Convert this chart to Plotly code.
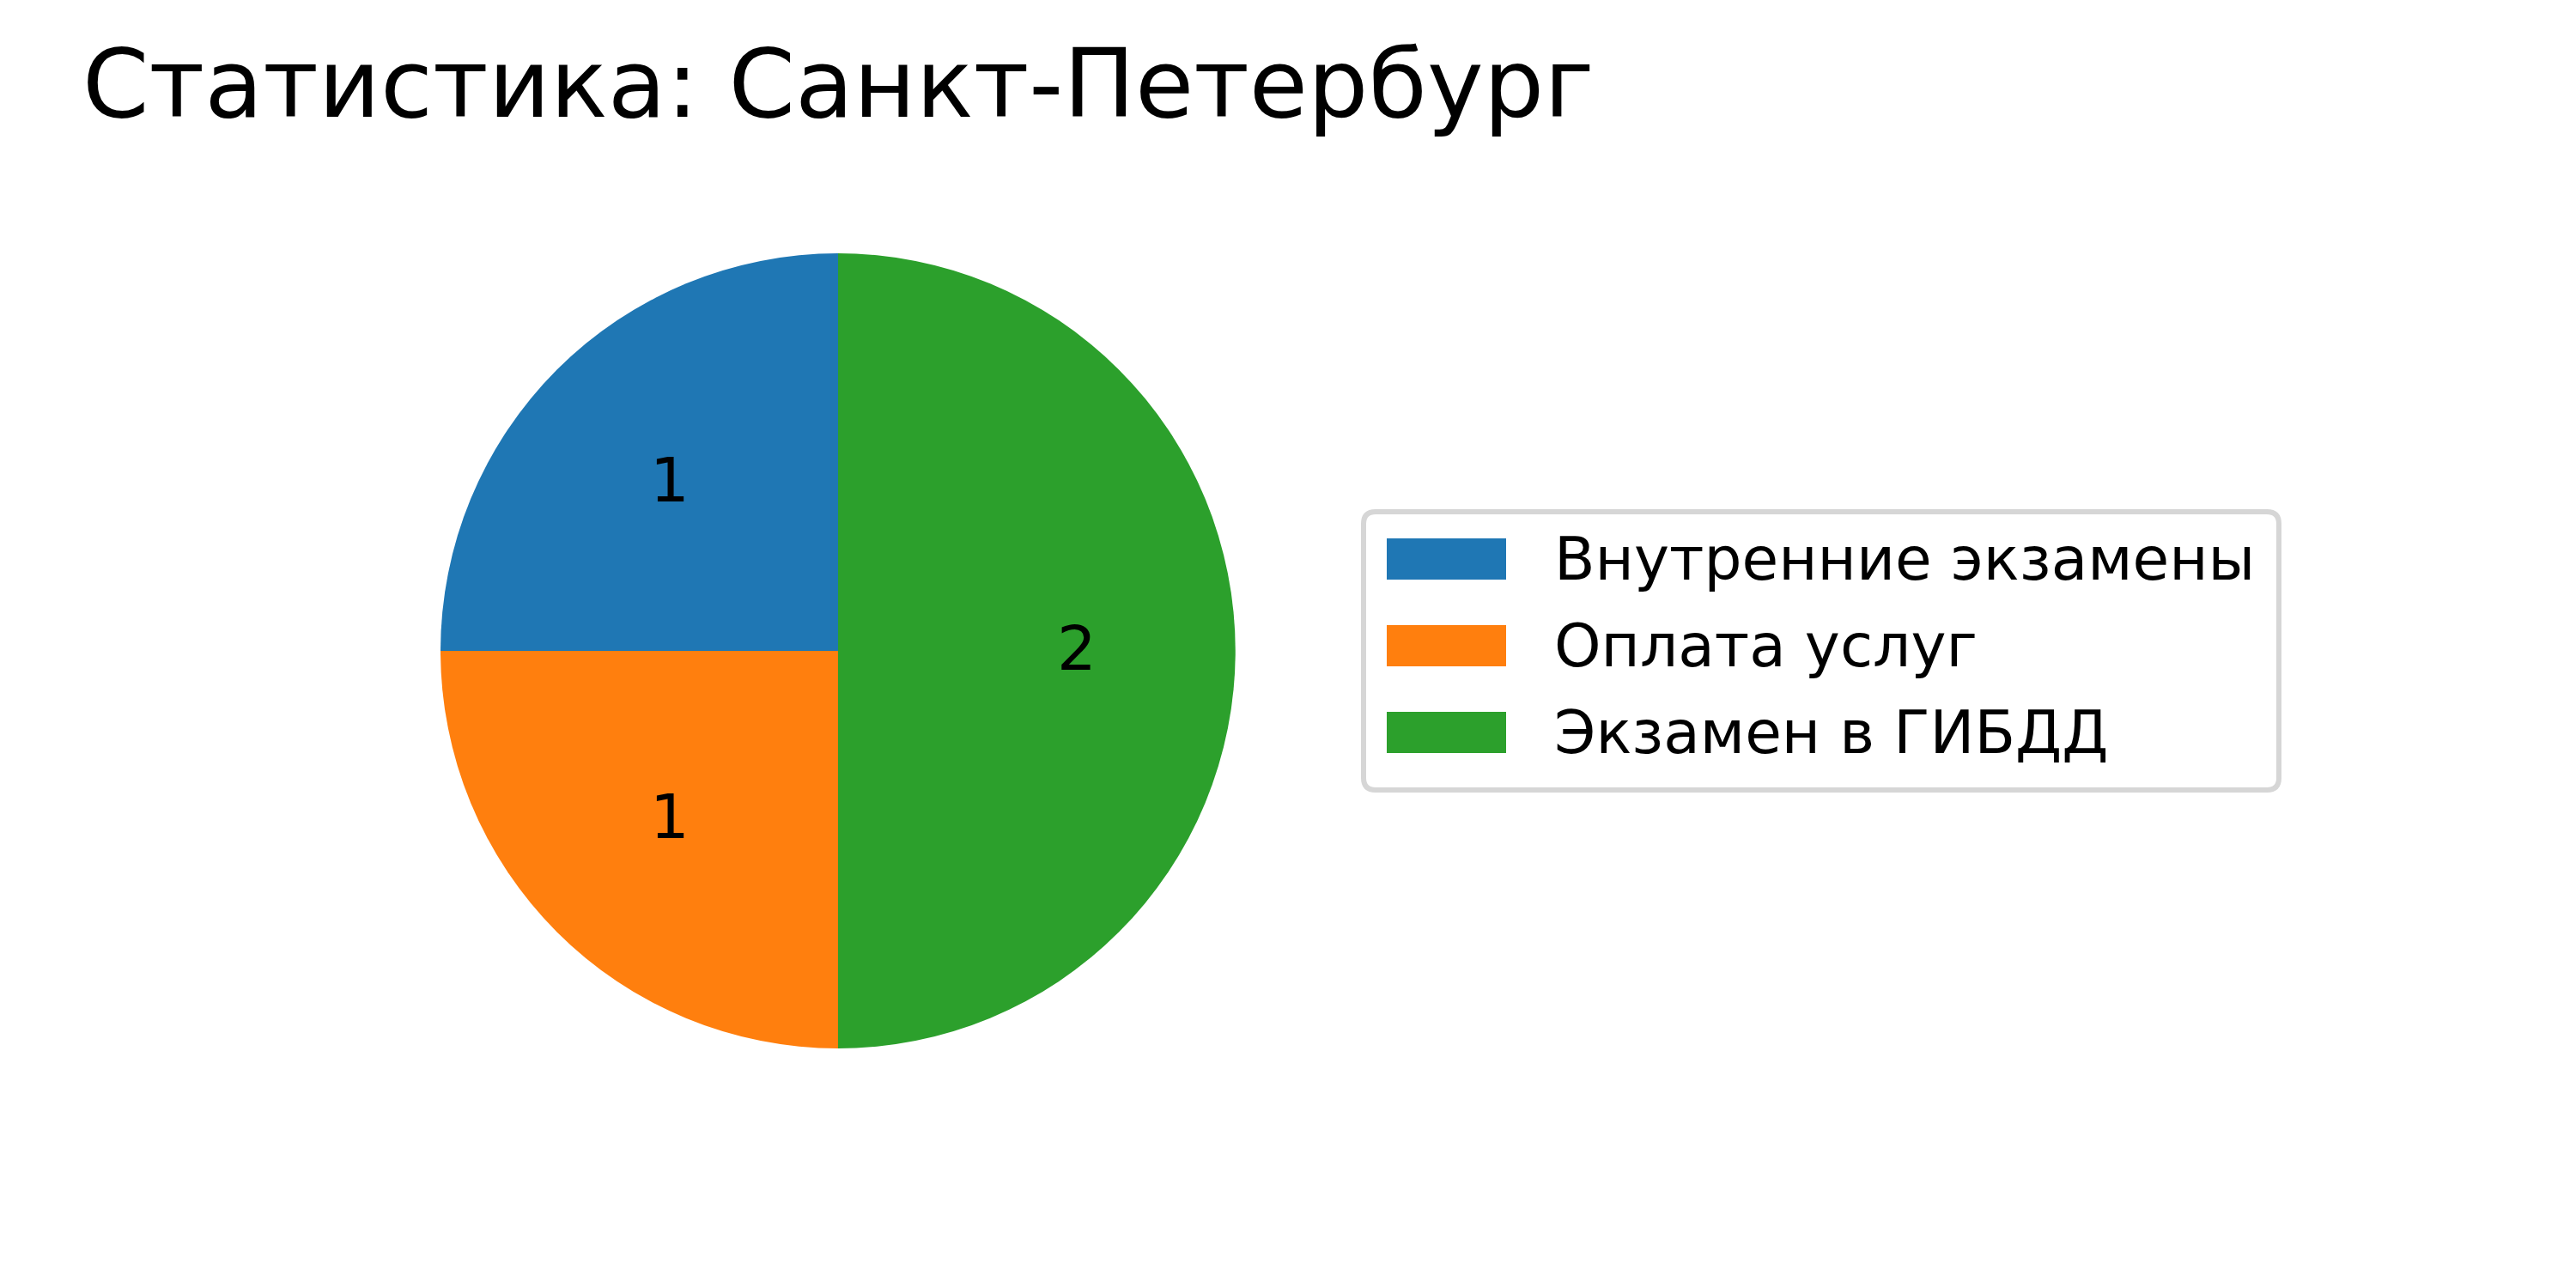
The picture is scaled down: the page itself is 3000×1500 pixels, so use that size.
import math
import plotly.graph_objects as go

# ---- data ----
categories = ["Внутренние экзамены", "Оплата услуг", "Экзамен в ГИБДД"]
values = [1, 1, 2]
colors = ["#1f77b4", "#ff7f0e", "#2ca02c"]
title_text = "Статистика: Санкт-Петербург"

W, H = 3000, 1500
FONT = "DejaVu Sans"

def px(x):
    return x / W

def py(y):
    return 1 - y / H

# pie geometry (pixels)
cx, cy, r = 976, 758, 463
label_dist = 0.6
start_angle = 90

fig = go.Figure()
fig.add_trace(go.Pie(
    labels=categories,
    values=values,
    marker=dict(colors=colors, line=dict(width=0)),
    sort=False,
    direction="counterclockwise",
    rotation=-90,
    textinfo="none",
    domain=dict(x=[px(cx - r), px(cx + r)], y=[py(cy + r), py(cy - r)]),
    showlegend=False,
    hoverinfo="label+value",
))

annotations = []
# value labels at 0.6 radius along each slice's mid-angle (computed from the values)
total = sum(values)
cum = 0
for v in values:
    mid = math.radians(start_angle + 360 * (cum + v / 2) / total)
    cum += v
    lx = cx + label_dist * r * math.cos(mid)
    ly = cy - label_dist * r * math.sin(mid)
    annotations.append(dict(text=str(v), xref="paper", yref="paper",
                            x=px(lx), y=py(ly - 3), xanchor="center", yanchor="middle",
                            showarrow=False,
                            font=dict(family=FONT, size=72, color="black")))

# ---- custom legend (matplotlib-like) ----
shapes = []
lx0, ly0, lx1, ly1 = 1588, 596, 2654, 920  # frame (stroke centre)
rad = 14
path = (f"M {px(lx0+rad)},{py(ly0)} L {px(lx1-rad)},{py(ly0)} "
        f"Q {px(lx1)},{py(ly0)} {px(lx1)},{py(ly0+rad)} "
        f"L {px(lx1)},{py(ly1-rad)} Q {px(lx1)},{py(ly1)} {px(lx1-rad)},{py(ly1)} "
        f"L {px(lx0+rad)},{py(ly1)} Q {px(lx0)},{py(ly1)} {px(lx0)},{py(ly1-rad)} "
        f"L {px(lx0)},{py(ly0+rad)} Q {px(lx0)},{py(ly0)} {px(lx0+rad)},{py(ly0)} Z")
shapes.append(dict(type="path", xref="paper", yref="paper", path=path,
                   line=dict(color="#d6d6d6", width=6), fillcolor="white", layer="above"))
patch_x0, patch_x1 = 1615, 1754
row0, row_step, patch_h = 627, 101, 48
text_x = 1808
for i, (cat, col) in enumerate(zip(categories, colors)):
    top = row0 + i * row_step
    shapes.append(dict(type="rect", xref="paper", yref="paper",
                       x0=px(patch_x0), x1=px(patch_x1), y0=py(top + patch_h), y1=py(top),
                       line=dict(width=0), fillcolor=col, layer="above"))
    annotations.append(dict(text=cat, xref="paper", yref="paper",
                            x=px(text_x), y=py(top + patch_h / 2),
                            xanchor="left", yanchor="middle", showarrow=False,
                            font=dict(family=FONT, size=69.4, color="black")))

fig.update_layout(
    width=W, height=H, autosize=False,
    margin=dict(l=0, r=0, t=0, b=0),
    paper_bgcolor="white", plot_bgcolor="white",
    font=dict(family=FONT, color="black"),
    title=dict(text=title_text, x=px(96), xanchor="left", xref="paper",
               y=py(97), yanchor="middle", yref="paper",
               font=dict(family=FONT, size=111, color="black")),
    shapes=shapes,
    annotations=annotations,
    showlegend=False,
)

fig.write_html("out.html")
